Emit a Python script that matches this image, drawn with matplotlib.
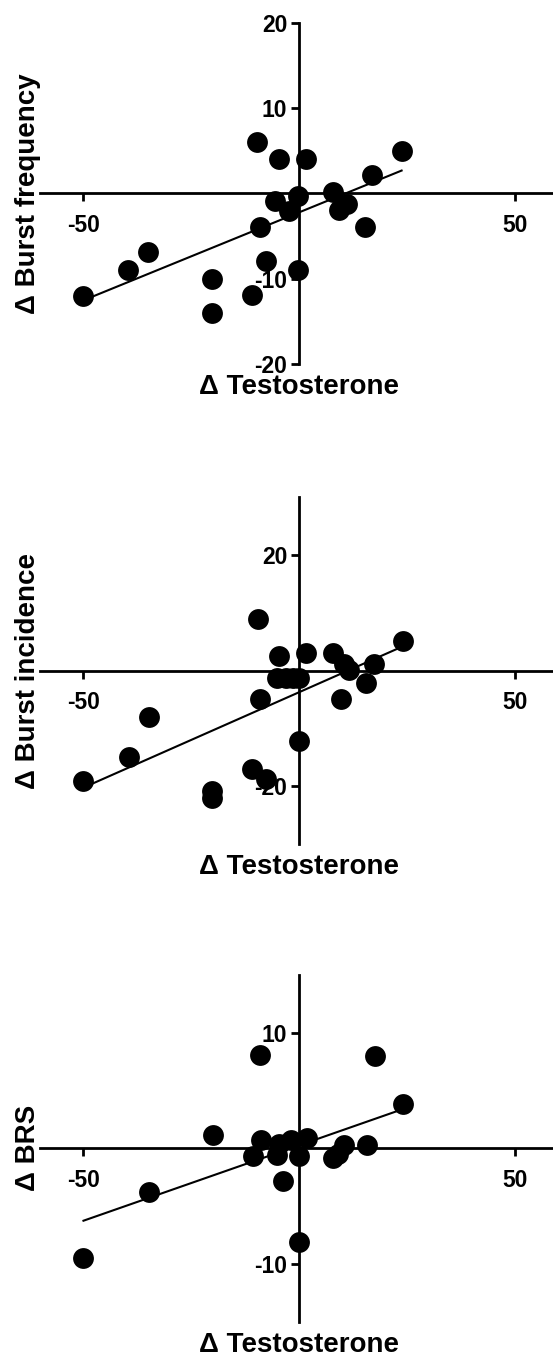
import numpy as np
import matplotlib
matplotlib.use("Agg")
import matplotlib.pyplot as plt
from matplotlib.transforms import offset_copy

plt.rcParams['font.family'] = ['Liberation Sans', 'DejaVu Sans']
plt.rcParams['font.weight'] = 'bold'
plt.rcParams['axes.unicode_minus'] = False

# change in testosterone against change in each outcome
testo_freq = [-50, -39.7, -35, -20.3, -20.3, -11, -7.8, -9.2, -9.9, -4.7, 1.5,
              -5.6, -2.3, -0.4, -0.4, 7.8, 11, 9.3, 15.3, 16.8, 23.7]
burst_freq = [-12.0, -9.0, -6.9, -10.0, -14.0, -11.9, -7.9, -3.9, 6.0, 4.0, 4.0,
              -0.9, -2.1, -0.3, -9.0, 0.15, -1.2, -1.9, -3.9, 2.1, 5.0]

testo_inc = [-50, -39.5, -34.8, -20.3, -20.3, -10.9, -7.8, -9.0, -9.6, -4.7, -5.2,
             -3.1, -1.5, 0, 0, 1.6, 7.9, 10.4, 11.6, 9.7, 15.5, 17.3, 24.1]
burst_inc = [-19.1, -15.0, -8.0, -20.9, -22.1, -17.0, -18.8, -4.9, 8.9, 2.5, -1.2,
             -1.2, -1.2, -1.2, -12.1, 3.0, 3.1, 1.2, 0.1, -4.9, -2.2, 1.2, 5.1]

testo_brs = [-50, -34.8, -19.9, -10.7, -8.8, -9.2, -4.7, -5.2, -3.7, -1.9, 0,
             0, 1.8, 7.9, 9.0, 10.4, 15.7, 17.5, 24.1]
brs = [-9.45, -3.77, 1.12, -0.63, 0.68, 8.11, 0.39, -0.54, -2.81, 0.68, -0.63,
       -8.11, 0.92, -0.86, -0.48, 0.25, 0.25, 7.96, 3.8]

W, H = 553, 1355
fig = plt.figure(figsize=(W / 100, H / 100), dpi=100)

# (top px, bottom px, x, y, label, y limit, y ticks)
panels = [
    (22.7, 364.0, testo_freq, burst_freq, 'Δ Burst frequency', 20, [-20, -10, 10, 20]),
    (497.3, 844.0, testo_inc, burst_inc, 'Δ Burst incidence', 30, [-20, 20]),
    (975.0, 1321.7, testo_brs, brs, 'Δ BRS', 15, [-10, 10]),
]

left, right = 40.3, 558.3

for top, bottom, x, y, label, lim, yticks in panels:
    ax = fig.add_axes([left / W, 1 - bottom / H, (right - left) / W, (bottom - top) / H])
    ax.patch.set_visible(False)
    ax.set_xlim(-60, 60)
    ax.set_ylim(-lim, lim)

    ax.spines['top'].set_visible(False)
    ax.spines['right'].set_visible(False)
    for side in ['left', 'bottom']:
        ax.spines[side].set_position(('data', 0))
        ax.spines[side].set_linewidth(2)

    ax.set_xticks([-50, 50])
    ax.set_yticks(yticks)
    ax.tick_params(axis='both', width=2, length=5.5, labelsize=16.5)
    ax.tick_params(axis='x', pad=9.5)
    ax.tick_params(axis='y', pad=3)

    # linear regression line over the data range
    slope, icpt = np.polyfit(x, y, 1)
    xs = np.array([min(x), max(x)])
    ax.plot(xs, slope * xs + icpt, color='black', lw=1.5, zorder=2)
    ax.plot(x, y, 'o', ms=15, color='black', mew=0, zorder=3, clip_on=False)

    ax.text(0.5, 0, 'Δ Testosterone', fontsize=20, ha='center', va='baseline',
            transform=offset_copy(ax.transAxes, fig=fig, y=-30, units='dots'))
    ax.text(0, 0.5, label, fontsize=20, rotation=90, rotation_mode='anchor',
            ha='center', va='baseline',
            transform=offset_copy(ax.transAxes, fig=fig, x=35 - left, units='dots'))

fig.savefig('out.png', dpi=100)
